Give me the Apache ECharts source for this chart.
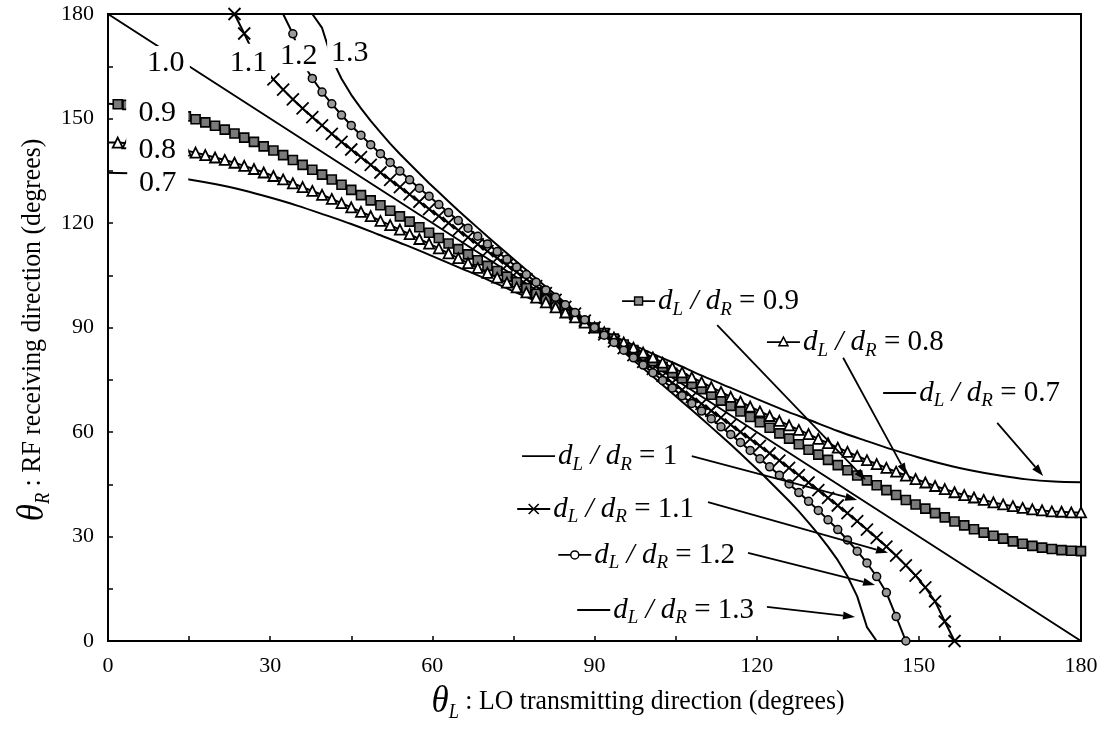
<!DOCTYPE html>
<html>
<head>
<meta charset="utf-8">
<script src="https://cdn.jsdelivr.net/npm/echarts/dist/echarts.min.js"></script>
<style>
  html, body { margin: 0; padding: 0; background: #fff; }
  #chart { width: 1110px; height: 738px; }
</style>
</head>
<body>
<div id="chart"></div>
<script>
// LO transmitting angle (degrees) at which each curve is sampled
const thetaL = [0,1.8,3.6,5.4,7.2,9,10.8,12.6,14.4,16.2,18,19.8,21.6,23.4,25.2,27,28.8,30.6,32.4,34.2,
  36,37.8,39.6,41.4,43.2,45,46.8,48.6,50.4,52.2,54,55.8,57.6,59.4,61.2,63,64.8,66.6,68.4,70.2,
  72,73.8,75.6,77.4,79.2,81,82.8,84.6,86.4,88.2,90,91.8,93.6,95.4,97.2,99,100.8,102.6,104.4,106.2,
  108,109.8,111.6,113.4,115.2,117,118.8,120.6,122.4,124.2,126,127.8,129.6,131.4,133.2,135,136.8,138.6,140.4,142.2,
  144,145.8,147.6,149.4,151.2,153,154.8,156.6,158.4,160.2,162,163.8,165.6,167.4,169.2,171,172.8,174.6,176.4,178.2,180];

// RF receiving angle (degrees) for dL/dR = 0.9
const recv09 = [154.2,154.1,153.9,153.6,153.2,152.7,152.1,151.4,150.6,149.8,148.9,147.9,146.8,145.7,144.5,143.3,142.0,140.8,139.5,138.1,
  136.7,135.3,133.9,132.5,131.0,129.5,128.0,126.5,125.1,123.5,121.9,120.4,118.8,117.2,115.7,114.1,112.5,111.0,109.3,107.7,
  106.2,104.6,103.0,101.3,99.7,98.1,96.5,94.9,93.2,91.6,90.0,
  88.4,86.8,85.1,83.5,81.9,80.3,78.7,77.0,75.4,73.8,72.3,70.7,69.0,67.5,65.9,64.3,62.8,61.2,59.6,58.1,
  56.5,54.9,53.5,52.0,50.5,49.0,47.5,46.1,44.7,43.3,41.9,40.5,39.2,38.0,36.7,35.5,34.3,33.2,32.1,31.1,
  30.2,29.4,28.6,27.9,27.3,26.8,26.4,26.1,25.9,25.8];

// dL/dR = 0.8
const recv08 = [143.1,143.1,142.9,142.8,142.5,142.2,141.8,141.3,140.8,140.2,139.5,138.8,138.1,137.3,136.4,135.5,134.5,133.5,132.5,131.4,
  130.3,129.2,128.1,126.9,125.7,124.5,123.2,122.0,120.6,119.4,118.1,116.8,115.4,114.1,112.7,111.3,109.9,108.5,107.1,105.7,
  104.3,102.9,101.5,100.1,98.6,97.2,95.8,94.3,92.9,91.4,90.0,
  88.6,87.1,85.7,84.2,82.8,81.4,79.9,78.5,77.1,75.7,74.3,72.9,71.5,70.1,68.7,67.3,65.9,64.6,63.2,61.9,
  60.6,59.4,58.0,56.8,55.5,54.3,53.1,51.9,50.8,49.7,48.6,47.5,46.5,45.5,44.5,43.6,42.7,41.9,41.2,40.5,
  39.8,39.2,38.7,38.2,37.8,37.5,37.2,37.1,36.9,36.9];

// dL/dR = 1.1 (no solution outside the plotted span)
const recv11 = [null,null,null,null,null,null,null,null,null,null,null,null,null,
  180,174.4,168.6,164.6,161.2,158.3,155.5,152.9,150.4,148.0,145.6,143.3,141.1,138.9,136.7,134.5,132.4,130.3,
  128.2,126.1,124.0,122.0,120.0,117.9,115.9,113.9,111.9,109.9,107.9,105.9,103.9,101.9,99.9,97.9,95.9,94.0,92.0,90.0,
  88.0,86.0,84.1,82.1,80.1,78.1,76.1,74.1,72.1,70.1,68.1,66.1,64.1,62.1,60.0,58.0,56.0,53.9,51.8,49.7,
  47.6,45.5,43.3,41.1,38.9,36.7,34.4,32.0,29.6,27.1,24.5,21.7,18.8,15.4,11.4,5.6,0,
  null,null,null,null,null,null,null,null,null,null,null,null,null];

// dL/dR = 1.2
const recv12 = [null,null,null,null,null,null,null,null,null,null,null,null,null,null,null,null,null,null,
  180,174.3,166.1,161.5,157.6,154.2,151.0,148.0,145.2,142.5,139.9,137.4,134.9,132.4,130.0,127.7,125.3,123.0,
  120.7,118.5,116.2,114.0,111.8,109.6,107.4,105.2,103.0,100.8,98.7,96.5,94.3,92.2,90.0,
  87.8,85.7,83.5,81.3,79.2,77.0,74.8,72.6,70.4,68.2,66.0,63.8,61.5,59.3,57.0,54.7,52.3,50.0,47.6,45.1,
  42.6,40.1,37.5,34.8,32.0,29.0,25.8,22.4,18.5,13.9,7.0,0,
  null,null,null,null,null,null,null,null,null,null,null,null,null,null,null,null,null,null];

// dL/dR = 1.3
const recv13 = [null,null,null,null,null,null,null,null,null,null,null,null,null,null,null,null,null,null,null,null,null,
  180,176.0,167.2,161.4,156.8,152.9,149.3,146.0,142.8,139.8,137.0,134.2,131.4,128.8,126.2,123.6,121.1,118.6,116.1,
  113.7,111.3,108.9,106.5,104.1,101.7,99.4,97.0,94.7,92.3,90.0,
  87.7,85.3,83.0,80.6,78.3,75.9,73.5,71.1,68.7,66.3,63.9,61.4,58.9,56.4,53.8,51.2,48.6,45.8,43.0,40.2,
  37.2,34.0,30.7,27.1,23.2,18.6,12.8,4.0,0,
  null,null,null,null,null,null,null,null,null,null,null,null,null,null,null,null,null,null,null,null,null];

// dL/dR = 0.7, sampled every 5 degrees
const thetaL07 = [0,5,10,15,20,25,30,35,40,45,50,55,60,65,70,75,80,85,90,95,100,105,110,115,120,125,130,135,140,145,150,155,160,165,170,175,180];
const recv07 = [134.4,134.2,133.6,132.5,131.1,129.4,127.3,125.0,122.4,119.7,116.7,113.7,110.5,107.2,103.9,100.4,97.0,93.5,90.0,
  86.5,83.0,79.6,76.1,72.8,69.5,66.3,63.3,60.3,57.6,55.0,52.7,50.6,48.9,47.5,46.4,45.8,45.6];

// dL/dR = 1: straight line
const thetaL10 = [0, 90, 180];
const recv10 = [180, 90, 0];

const FONT = '"Liberation Serif","Times New Roman",serif';
const INK = '#000';

// [x, y] pairs; points on the plot frame can have their marker suppressed
function pairs(xs, ys, bareEnds) {
  const out = [];
  xs.forEach((x, i) => {
    if (ys[i] == null) return;
    if (bareEnds && (x === 0 || ys[i] === 180)) out.push({ value: [x, ys[i]], symbol: 'none' });
    else out.push([x, ys[i]]);
  });
  return out;
}

const crossPath = 'path://M0,0L10,10M10,0L0,10';
const lineStyle = { color: INK, width: 2 };

const chart = echarts.init(document.getElementById('chart'), null, { renderer: 'canvas' });

const axisCommon = {
  type: 'value', min: 0, max: 180, interval: 30,
  axisLine: { show: true, onZero: false, lineStyle: { color: INK, width: 2 } },
  axisTick: { show: true, inside: true, length: 5, lineStyle: { color: INK, width: 1.5 } },
  minorTick: { show: true, splitNumber: 2, length: 5, lineStyle: { color: INK, width: 1.5 } },
  splitLine: { show: false },
  axisLabel: { color: INK, fontFamily: FONT, fontSize: 22, margin: 14 }
};

chart.setOption({
  animation: false,
  backgroundColor: '#fff',
  grid: { left: 108, right: 29, top: 14, bottom: 97, show: true, borderColor: INK, borderWidth: 2, backgroundColor: 'transparent' },
  xAxis: Object.assign({}, axisCommon),
  yAxis: Object.assign({}, axisCommon),
  series: [
    { name: '0.7', type: 'line', data: pairs(thetaL07, recv07), showSymbol: false, smooth: 0.3, lineStyle },
    { name: '1.0', type: 'line', data: pairs(thetaL10, recv10), showSymbol: false, lineStyle },
    { name: '1.3', type: 'line', data: pairs(thetaL, recv13), showSymbol: false, lineStyle },
    { name: '0.9', type: 'line', data: pairs(thetaL, recv09, true), symbol: 'rect', symbolSize: 9,
      itemStyle: { color: '#7a7a7a', borderColor: INK, borderWidth: 1.6 }, lineStyle },
    { name: '0.8', type: 'line', data: pairs(thetaL, recv08, true), symbol: 'triangle', symbolSize: 10,
      itemStyle: { color: '#fff', borderColor: INK, borderWidth: 1.8 }, lineStyle },
    { name: '1.1', type: 'line', data: pairs(thetaL, recv11), symbol: crossPath, symbolSize: 12,
      itemStyle: { color: INK, borderColor: INK, borderWidth: 1.8 }, lineStyle },
    { name: '1.2', type: 'line', data: pairs(thetaL, recv12, true), symbol: 'circle', symbolSize: 8,
      itemStyle: { color: '#9a9a9a', borderColor: INK, borderWidth: 1.5 }, lineStyle }
  ]
});

// boxed curve labels near the left edge: centre in data space, box size in px
const curveTags = [
  { text: '1.0', at: [10.7, 165.9], w: 48, h: 34 },
  { text: '1.1', at: [26.0, 166.0], w: 45, h: 38 },
  { text: '1.2', at: [35.3, 168.0], w: 38, h: 31 },
  { text: '1.3', at: [44.7, 168.8], w: 45, h: 30 },
  { text: '0.9', at: [9.1, 151.6], w: 62, h: 34 },
  { text: '0.8', at: [9.1, 141.0], w: 62, h: 32 },
  { text: '0.7', at: [9.2, 131.5], w: 61, h: 30 }
];

// legend-style call-outs with arrows pointing at their curves
const callouts = [
  { ratio: '0.9', mark: 'rect',     at: [95.1, 97.6],  from: [112.7, 90.7], to: [140.2, 46.2] },
  { ratio: '0.8', mark: 'triangle', at: [121.9, 85.8], from: [136.0, 81.3], to: [147.8, 47.7] },
  { ratio: '0.7', mark: 'none',     at: [143.4, 71.2], from: [164.5, 62.6], to: [173.0, 47.4] },
  { ratio: '1',   mark: 'none',     at: [76.6, 53.1],  from: [108.0, 53.1], to: [138.6, 40.5] },
  { ratio: '1.1', mark: 'cross',    at: [75.7, 37.9],  from: [111.0, 39.9], to: [144.3, 25.3] },
  { ratio: '1.2', mark: 'circle',   at: [83.3, 24.7],  from: [118.4, 25.3], to: [141.9, 16.1] },
  { ratio: '1.3', mark: 'none',     at: [86.8, 8.9],   from: [121.9, 9.8],  to: [138.2, 6.9] }
];

const px = p => chart.convertToPixel({ gridIndex: 0 }, p);

function markerShape(kind, cx, cy) {
  const z = 110;
  if (kind === 'rect') return [{ type: 'rect', z, shape: { x: cx - 4, y: cy - 4, width: 8, height: 8 }, style: { fill: '#8c8c8c', stroke: INK, lineWidth: 1.4 } }];
  if (kind === 'triangle') return [{ type: 'polygon', z, shape: { points: [[cx, cy - 5], [cx + 4.5, cy + 3.5], [cx - 4.5, cy + 3.5]] }, style: { fill: '#fff', stroke: INK, lineWidth: 1.5 } }];
  if (kind === 'circle') return [{ type: 'circle', z, shape: { cx, cy, r: 4 }, style: { fill: '#fff', stroke: INK, lineWidth: 1.5 } }];
  if (kind === 'cross') return [
    { type: 'line', z, shape: { x1: cx - 5, y1: cy - 5, x2: cx + 5, y2: cy + 5 }, style: { stroke: INK, lineWidth: 1.6 } },
    { type: 'line', z, shape: { x1: cx - 5, y1: cy + 5, x2: cx + 5, y2: cy - 5 }, style: { stroke: INK, lineWidth: 1.6 } }
  ];
  return [];
}

const ratioRich = {
  d: { fontFamily: FONT, fontStyle: 'italic', fontSize: 29, lineHeight: 36, verticalAlign: 'middle', fill: INK },
  s: { fontFamily: FONT, fontStyle: 'italic', fontSize: 19, lineHeight: 19, verticalAlign: 'bottom', fill: INK },
  n: { fontFamily: FONT, fontSize: 29, lineHeight: 36, verticalAlign: 'middle', fill: INK }
};

const titleRich = {
  t: { fontFamily: FONT, fontStyle: 'italic', fontSize: 38, lineHeight: 42, verticalAlign: 'middle', fill: INK },
  s: { fontFamily: FONT, fontStyle: 'italic', fontSize: 20, lineHeight: 20, verticalAlign: 'bottom', fill: INK },
  n: { fontFamily: FONT, fontSize: 28, lineHeight: 42, verticalAlign: 'middle', fill: INK }
};

function buildGraphics() {
  const g = [];
  curveTags.forEach(t => {
    const [cx, cy] = px(t.at);
    g.push({ type: 'rect', z: 100, shape: { x: cx - t.w / 2, y: cy - t.h / 2, width: t.w, height: t.h }, style: { fill: '#fff' } });
    g.push({ type: 'text', z: 101, x: cx, y: cy, style: { text: t.text, font: '30px ' + FONT, fill: INK, align: 'center', verticalAlign: 'middle' } });
  });
  callouts.forEach(c => {
    const [x0, y0] = px(c.at);
    g.push({ type: 'line', z: 105, shape: { x1: x0, y1: y0, x2: x0 + 33, y2: y0 }, style: { stroke: INK, lineWidth: 1.8 } });
    markerShape(c.mark, x0 + 16.5, y0).forEach(m => g.push(m));
    g.push({
      type: 'text', z: 105, x: x0 + 36, y: y0,
      style: { text: '{d|d}{s|L}{d| / }{d|d}{s|R}{n| = ' + c.ratio + '}', rich: ratioRich, align: 'left', verticalAlign: 'middle' }
    });
    const [ax, ay] = px(c.from);
    const [bx, by] = px(c.to);
    const len = Math.hypot(bx - ax, by - ay);
    const ux = (bx - ax) / len, uy = (by - ay) / len;
    const baseX = bx - ux * 12, baseY = by - uy * 12;
    g.push({ type: 'line', z: 105, shape: { x1: ax, y1: ay, x2: baseX, y2: baseY }, style: { stroke: INK, lineWidth: 1.8 } });
    g.push({ type: 'polygon', z: 105, shape: { points: [[bx, by], [baseX - uy * 4, baseY + ux * 4], [baseX + uy * 4, baseY - ux * 4]] }, style: { fill: INK } });
  });
  // axis titles
  g.push({
    type: 'text', z: 105, x: 638, y: 702, scaleX: 0.92,
    style: { text: '{t|θ}{s|L}{n| : LO transmitting direction (degrees)}', align: 'center', verticalAlign: 'middle', rich: titleRich }
  });
  g.push({
    type: 'text', z: 105, x: 33, y: 330, rotation: Math.PI / 2, scaleX: 0.92,
    style: { text: '{t|θ}{s|R}{n| : RF receiving direction (degrees)}', align: 'center', verticalAlign: 'middle', rich: titleRich }
  });
  return g;
}

chart.setOption({ graphic: buildGraphics() });
</script>
</body>
</html>
